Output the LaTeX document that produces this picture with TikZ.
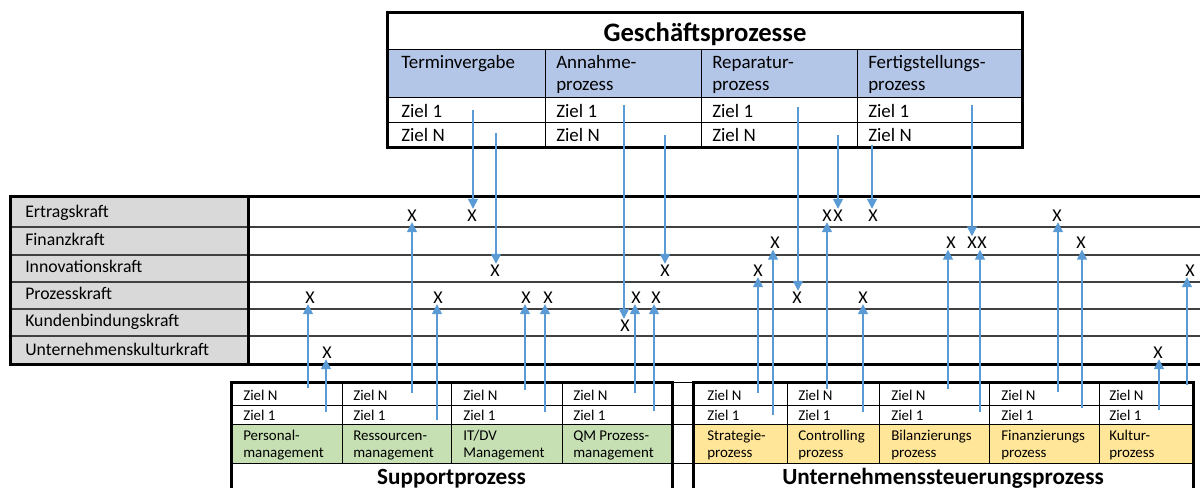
\documentclass[tikz,border=0pt]{standalone}
\usepackage{fontspec}
\setmainfont{Carlito}
\usetikzlibrary{arrows.meta}
\definecolor{hdrblue}{HTML}{B4C6E7}
\definecolor{suppgreen}{HTML}{C6E0B4}
\definecolor{steuyellow}{HTML}{FFE699}
\definecolor{lblgray}{HTML}{D9D9D9}
\definecolor{flowblue}{HTML}{5B9BD5}
\definecolor{rowline}{HTML}{404040}
\tikzset{
  thick border/.style={line width=2.25pt, line join=miter},
  thin grid/.style={line width=0.75pt},
  row grid/.style={line width=1.1pt, draw=rowline},
  celltext/.style={anchor=base west, inner sep=0pt, font=\fontsize{14.2}{17}\selectfont},
  rowlabel/.style={anchor=base west, inner sep=0pt, font=\fontsize{13.3}{15}\selectfont},
  smalltext/.style={anchor=base west, inner sep=0pt, font=\fontsize{11.2}{13}\selectfont},
  bigtitle/.style={anchor=base, inner sep=0pt, font=\bfseries\fontsize{20}{24}\selectfont},
  boxtitle/.style={anchor=base, inner sep=0pt, font=\bfseries\fontsize{17.4}{21}\selectfont},
  xmark/.style={inner sep=0.5pt, font=\fontsize{13.5}{15}\selectfont},
  flow/.style={draw=flowblue, line width=1pt, -{Triangle[length=7.5pt,width=7.5pt]}}
}
\begin{document}
\begin{tikzpicture}[x=0.75pt, y=-0.75pt]
\useasboundingbox (0,0) rectangle (1200,488);
\clip (0,0) rectangle (1200,488);

% ---------- Geschaeftsprozesse ----------
\fill[hdrblue] (387,50) rectangle (1022,98);
\draw[thin grid] (387,50) -- (1022,50) (387,98) -- (1022,98) (387,123) -- (1022,123);
\draw[thin grid] (545,50) -- (545,148) (701,50) -- (701,148) (857,50) -- (857,148);
\draw[thick border] (387,13) rectangle (1022,148);
\node[bigtitle] (gtitle) at (705,42) {Geschäftsprozesse};
\node[celltext] (g1a) at (401,69) {Terminvergabe};
\node[celltext] (g2a) at (556,69) {Annahme-};
\node[celltext] (g2b) at (556,91) {prozess};
\node[celltext] (g3a) at (712,69) {Reparatur-};
\node[celltext] (g3b) at (712,91) {prozess};
\node[celltext] (g4a) at (868,69) {Fertigstellungs-};
\node[celltext] (g4b) at (868,91) {prozess};
\foreach \cx [count=\i] in {401,556,712,868} {
  \node[celltext] (gz1\i) at (\cx,118) {Ziel 1};
  \node[celltext] (gzn\i) at (\cx,142) {Ziel N};
}

% ---------- Erfolgsfaktoren ----------
\fill[lblgray] (10,197) rectangle (248,365);
\foreach \ry in {227,255,282,309,336} {
  \draw[row grid] (10,\ry) -- (1200,\ry);
}
\draw[thick border] (1200,197) -- (10,197) -- (10,365) -- (1200,365);
\draw[thick border] (248,197) -- (248,365);
\node[rowlabel] (kE) at (25,218) {Ertragskraft};
\node[rowlabel] (kF) at (25,246) {Finanzkraft};
\node[rowlabel] (kI) at (25,273) {Innovationskraft};
\node[rowlabel] (kP) at (25,300) {Prozesskraft};
\node[rowlabel] (kK) at (25,327) {Kundenbindungskraft};
\node[rowlabel] (kU) at (25,355) {Unternehmenskulturkraft};

% X marks
\foreach \mx [count=\i] in {412,472,827,838,873,1057} { \node[xmark] (xe\i) at (\mx,215.5) {X}; }
\foreach \mx [count=\i] in {775,951,972,982,1081} { \node[xmark] (xf\i) at (\mx,243) {X}; }
\foreach \mx [count=\i] in {495,665,758,1190} { \node[xmark] (xi\i) at (\mx,270.5) {X}; }
\foreach \mx [count=\i] in {310,438,526,548,636,656,797,863} { \node[xmark] (xp\i) at (\mx,297.5) {X}; }
\node[xmark] (xk1) at (625,325.5) {X};
\node[xmark] (xu1) at (327,352.5) {X};
\node[xmark] (xu2) at (1158,352.5) {X};

% ---------- Supportprozess / Unternehmenssteuerungsprozess ----------
\fill[suppgreen] (231,424) rectangle (672,463);
\fill[steuyellow] (693,424) rectangle (1193,463);
\draw[thin grid] (672,383) -- (693,383);
\foreach \ry in {405,424,463} { \draw[thin grid] (231,\ry) -- (1193,\ry); }
\foreach \cx in {342,451,562,787,879,989,1099} { \draw[thin grid] (\cx,383) -- (\cx,463); }
\draw[thick border] (231,383) rectangle (672,500);
\draw[thick border] (693,383) rectangle (1193,500);

\foreach \cx/\la/\lb [count=\i] in {243/Personal-/management, 353/Ressourcen-/management, 463/IT\slash DV/Management, 573/QM Prozess-/management} {
  \node[smalltext] (szn\i) at (\cx,400) {Ziel N};
  \node[smalltext] (sz1\i) at (\cx,421) {Ziel 1};
  \node[smalltext] (sa\i) at (\cx,440) {\la};
  \node[smalltext] (sb\i) at (\cx,457) {\lb};
}
\foreach \cx/\la [count=\i] in {707/Strategie-, 798/Controlling, 891/Bilanzierungs, 1001/Finanzierungs, 1109/Kultur-} {
  \node[smalltext] (uzn\i) at (\cx,400) {Ziel N};
  \node[smalltext] (uz1\i) at (\cx,421) {Ziel 1};
  \node[smalltext] (ua\i) at (\cx,440) {\la};
  \node[smalltext] (ub\i) at (\cx,457) {prozess};
}
\node[boxtitle] (stitle) at (451.5,484) {Supportprozess};
\node[boxtitle] (utitle) at (943,484) {Unternehmenssteuerungsprozess};

% ---------- Zuordnungspfeile ----------
% from business process goals downwards
\coordinate (d1) at (473,110);  \draw[flow] (d1) -- (d1 |- xe2.north);
\coordinate (d2) at (496,133);  \draw[flow] (d2) -- (d2 |- xi1.north);
\coordinate (d3) at (624,105);  \draw[flow] (d3) -- (d3 |- xk1.north);
\coordinate (d4) at (665,135);  \draw[flow] (d4) -- (d4 |- xi2.north);
\coordinate (d5) at (798,107);  \draw[flow] (d5) -- (d5 |- xp7.north);
\coordinate (d6) at (838,135);  \draw[flow] (d6) -- (d6 |- xe4.north);
\coordinate (d7) at (872,145);  \draw[flow] (d7) -- (d7 |- xe5.north);
\coordinate (d8) at (972,105);  \draw[flow] (d8) -- (d8 |- xf3.north);
% from support and management goals upwards
\coordinate (u1) at (308,388);   \draw[flow] (u1) -- (u1 |- xp1.south);
\coordinate (u2) at (326,412);   \draw[flow] (u2) -- (u2 |- xu1.south);
\coordinate (u3) at (412,393);   \draw[flow] (u3) -- (u3 |- xe1.south);
\coordinate (u4) at (437,420);   \draw[flow] (u4) -- (u4 |- xp2.south);
\coordinate (u5) at (525,390);   \draw[flow] (u5) -- (u5 |- xp3.south);
\coordinate (u6) at (545,412);   \draw[flow] (u6) -- (u6 |- xp4.south);
\coordinate (u7) at (635,393);   \draw[flow] (u7) -- (u7 |- xp5.south);
\coordinate (u8) at (654,411);   \draw[flow] (u8) -- (u8 |- xp6.south);
\coordinate (u9) at (758,393);   \draw[flow] (u9) -- (u9 |- xi3.south);
\coordinate (u10) at (773,415);  \draw[flow] (u10) -- (u10 |- xf1.south);
\coordinate (u11) at (827,389);  \draw[flow] (u11) -- (u11 |- xe3.south);
\coordinate (u12) at (863,412);  \draw[flow] (u12) -- (u12 |- xp8.south);
\coordinate (u13) at (948,389);  \draw[flow] (u13) -- (u13 |- xf2.south);
\coordinate (u14) at (980,412);  \draw[flow] (u14) -- (u14 |- xf4.south);
\coordinate (u15) at (1058,392); \draw[flow] (u15) -- (u15 |- xe6.south);
\coordinate (u16) at (1082,408); \draw[flow] (u16) -- (u16 |- xf5.south);
\coordinate (u17) at (1159,410); \draw[flow] (u17) -- (u17 |- xu2.south);
\coordinate (u18) at (1187,385); \draw[flow] (u18) -- (u18 |- xi4.south);
\end{tikzpicture}
\end{document}
